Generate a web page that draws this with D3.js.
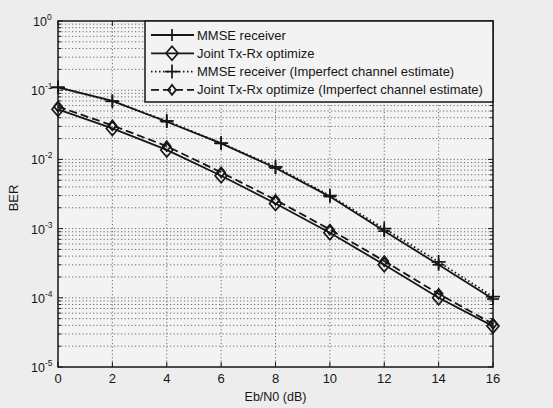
<!DOCTYPE html>
<html><head><meta charset="utf-8">
<script src="https://cdn.jsdelivr.net/npm/d3@7"></script>
<style>
html,body{margin:0;padding:0;background:#ededed;}
svg{display:block;font-family:"Liberation Sans",Arial,sans-serif;}
</style></head>
<body><svg id="c" width="553" height="408"></svg>
<script>
const snr = [0, 2, 4, 6, 8, 10, 12, 14, 16];
const mmse = [0.11, 0.07, 0.035, 0.017, 0.0075, 0.0029, 0.00092, 0.0003, 0.000096];
const joint = [0.053, 0.028, 0.0137, 0.0058, 0.0023, 0.00087, 0.0003, 0.0001, 0.000039];
const mmseImp = [0.11, 0.069, 0.036, 0.0172, 0.0078, 0.003, 0.001, 0.00033, 0.000104];
const jointImp = [0.058, 0.031, 0.0155, 0.0065, 0.0026, 0.00097, 0.00034, 0.000114, 0.000042];
const xTicks = [0, 2, 4, 6, 8, 10, 12, 14, 16];
const yExps = [0, -1, -2, -3, -4, -5];
const labels = ["MMSE receiver", "Joint Tx-Rx optimize",
  "MMSE receiver (Imperfect channel estimate)", "Joint Tx-Rx optimize (Imperfect channel estimate)"];

const svg = d3.select("#c");
const L = 58, T = 21, R = 493, B = 367;
const x = d3.scaleLinear().domain([0, 16]).range([L, R]);
const y = d3.scaleLog().domain([1e-5, 1]).range([B, T]);
const ink = "#161616";

svg.append("rect").attr("x", L).attr("y", T).attr("width", R - L).attr("height", B - T).attr("fill", "#f3f3f3");

// grid
const minor = [];
for (let e = -5; e < 0; e++) for (let m = 1; m < 10; m++) minor.push(m * Math.pow(10, e));
const g = svg.append("g");
g.selectAll("line.h").data(minor.filter(v => v > 1e-5)).join("line")
  .attr("x1", L).attr("x2", R).attr("y1", d => y(d)).attr("y2", d => y(d))
  .attr("stroke", "#6a6a6a").attr("stroke-width", 1).attr("stroke-dasharray", "1.2,2.3");
g.selectAll("line.v").data(xTicks.slice(1, -1)).join("line")
  .attr("x1", d => x(d)).attr("x2", d => x(d)).attr("y1", T).attr("y2", B)
  .attr("stroke", "#6a6a6a").attr("stroke-width", 1).attr("stroke-dasharray", "1.2,2.3");

// ticks
const tk = svg.append("g").attr("stroke", ink).attr("stroke-width", 1);
minor.concat([1]).forEach(v => {
  const isMaj = Math.abs(Math.log10(v) - Math.round(Math.log10(v))) < 1e-9;
  const len = isMaj ? 5 : 3;
  tk.append("line").attr("x1", L).attr("x2", L + len).attr("y1", y(v)).attr("y2", y(v));
  tk.append("line").attr("x1", R).attr("x2", R - len).attr("y1", y(v)).attr("y2", y(v));
});
xTicks.forEach(v => {
  tk.append("line").attr("x1", x(v)).attr("x2", x(v)).attr("y1", B).attr("y2", B - 5);
  tk.append("line").attr("x1", x(v)).attr("x2", x(v)).attr("y1", T).attr("y2", T + 5);
});

// series
const line = d3.line().x((d, i) => x(snr[i])).y(d => y(d));
function plus(gr, s) {
  return (px, py) => {
    gr.append("line").attr("x1", px - s).attr("x2", px + s).attr("y1", py).attr("y2", py);
    gr.append("line").attr("x1", px).attr("x2", px).attr("y1", py - s).attr("y2", py + s);
  };
}
function diamond(gr, w, h) {
  return (px, py) => {
    gr.append("path").attr("d", `M${px},${py - h}L${px + w},${py}L${px},${py + h}L${px - w},${py}Z`).attr("fill", "none");
  };
}
const series = [
  {data: mmse, dash: null, w: 1.8, mk: (gr) => plus(gr, 6)},
  {data: joint, dash: null, w: 1.8, mk: (gr) => diamond(gr, 6, 7)},
  {data: mmseImp, dash: "1.5,2.5", w: 1.8, mk: (gr) => plus(gr, 7)},
  {data: jointImp, dash: "8,4", w: 1.8, mk: (gr) => diamond(gr, 4, 5)}
];
series.forEach(s => {
  svg.append("path").datum(s.data).attr("d", line).attr("fill", "none")
    .attr("stroke", ink).attr("stroke-width", s.w).attr("stroke-dasharray", s.dash);
  const gr = svg.append("g").attr("stroke", ink).attr("stroke-width", 1.7);
  const m = s.mk(gr);
  s.data.forEach((d, i) => m(x(snr[i]), y(d)));
});

// frame
svg.append("rect").attr("x", L).attr("y", T).attr("width", R - L).attr("height", B - T)
  .attr("fill", "none").attr("stroke", ink).attr("stroke-width", 1.5);

// tick labels
svg.selectAll("text.xt").data(xTicks).join("text")
  .attr("x", d => x(d)).attr("y", B + 16).attr("text-anchor", "middle")
  .attr("font-size", 13).attr("fill", ink).text(d => d);
const yl = svg.selectAll("text.yt").data(yExps).join("text")
  .attr("y", d => y(Math.pow(10, d)) + 5).attr("text-anchor", "start")
  .attr("x", d => d < 0 ? 31 : 33)
  .attr("font-size", 12.5).attr("fill", ink);
yl.append("tspan").text("10");
yl.append("tspan").attr("dy", -6).attr("font-size", 8.5).text(d => d);

svg.append("text").attr("x", (L + R) / 2).attr("y", 401).attr("text-anchor", "middle")
  .attr("font-size", 12.5).attr("fill", ink).text("Eb/N0 (dB)");
svg.append("text").attr("transform", "translate(18,198) rotate(-90)").attr("text-anchor", "middle")
  .attr("font-size", 13).attr("fill", ink).text("BER");

// legend
const lg = svg.append("g");
const lx = 145, ly = 21, lw = R - lx, lh = 81;
lg.append("rect").attr("x", lx).attr("y", ly).attr("width", lw).attr("height", lh)
  .attr("fill", "#f3f3f3").attr("stroke", ink).attr("stroke-width", 1.5);
series.forEach((s, i) => {
  const yy = 35 + i * 18.3;
  lg.append("line").attr("x1", 151).attr("x2", 194).attr("y1", yy).attr("y2", yy)
    .attr("stroke", ink).attr("stroke-width", s.w).attr("stroke-dasharray", s.dash);
  const gr = lg.append("g").attr("stroke", ink).attr("stroke-width", 1.7);
  s.mk(gr)(172, yy);
  lg.append("text").attr("x", 197).attr("y", yy + 4.5).attr("font-size", 13)
    .attr("fill", ink).text(labels[i]);
});
</script></body></html>
